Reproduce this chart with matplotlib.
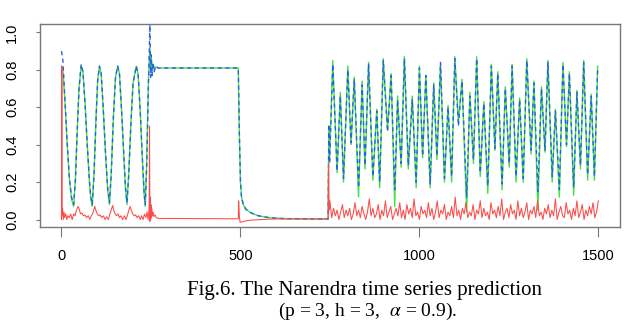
import numpy as np
import matplotlib
matplotlib.use("Agg")
import matplotlib.pyplot as plt

plt.rcParams['font.family'] = ['Liberation Sans', 'DejaVu Sans']
plt.rcParams['mathtext.fontset'] = 'stix'

# time index of the read-off points (actual and predicted share them)
t_sig = [0, 4, 10, 16, 22, 28, 34, 39, 44, 49, 55, 60, 66, 72, 78, 82, 86, 91, 96, 101,
         106, 111, 117, 123, 129, 134, 139, 145, 151, 157, 162, 168, 174, 179, 183, 188, 194, 200, 209, 214,
         220, 226, 231, 234, 238, 243, 247, 249, 251, 253, 256, 259, 263, 270, 494, 497, 500, 503, 508, 515,
         530, 550, 580, 620, 700, 745, 747, 749, 758, 770, 779, 788, 800, 809, 818, 830, 840, 848, 858, 870,
         881, 889, 899, 911, 921, 931, 939, 949, 958, 969, 980, 991, 1000, 1009, 1018, 1030, 1040, 1049, 1059, 1070,
         1080, 1090, 1099, 1109, 1119, 1132, 1141, 1151, 1160, 1170, 1180, 1191, 1201, 1211, 1219, 1231, 1240, 1251, 1259, 1270,
         1280, 1290, 1300, 1312, 1320, 1331, 1341, 1351, 1359, 1371, 1380, 1391, 1401, 1411, 1419, 1431, 1440, 1450, 1459, 1470,
         1480, 1489, 1498]

# actual series (green)
y_actual = [0.82, 0.80, 0.62, 0.40, 0.22, 0.11, 0.07, 0.22, 0.48, 0.70, 0.82, 0.79, 0.62, 0.40, 0.20, 0.11, 0.07, 0.25, 0.52, 0.74,
            0.82, 0.78, 0.58, 0.35, 0.16, 0.08, 0.25, 0.55, 0.76, 0.82, 0.78, 0.58, 0.34, 0.16, 0.08, 0.25, 0.52, 0.73, 0.82, 0.78,
            0.58, 0.32, 0.13, 0.07, 0.30, 0.75, 0.92, 0.80, 0.86, 0.79, 0.83, 0.80, 0.815, 0.81, 0.81, 0.45, 0.20, 0.12, 0.08, 0.055,
            0.035, 0.02, 0.01, 0.005, 0.003, 0.003, 0.50, 0.32, 0.85, 0.25, 0.68, 0.20, 0.82, 0.40, 0.76, 0.12, 0.74, 0.27, 0.84, 0.21,
            0.59, 0.17, 0.86, 0.48, 0.78, 0.07, 0.66, 0.28, 0.87, 0.27, 0.66, 0.17, 0.82, 0.33, 0.77, 0.17, 0.73, 0.32, 0.83, 0.20,
            0.61, 0.20, 0.87, 0.52, 0.75, 0.04, 0.68, 0.30, 0.87, 0.23, 0.63, 0.14, 0.83, 0.37, 0.79, 0.16, 0.71, 0.28, 0.83, 0.20,
            0.65, 0.20, 0.86, 0.35, 0.74, 0.05, 0.71, 0.36, 0.85, 0.20, 0.59, 0.12, 0.84, 0.39, 0.79, 0.13, 0.69, 0.27, 0.85, 0.21,
            0.67, 0.21, 0.82]

# predicted series (blue dashed)
y_pred = [0.90, 0.85, 0.63, 0.41, 0.22, 0.12, 0.08, 0.21, 0.47, 0.70, 0.83, 0.79, 0.61, 0.40, 0.21, 0.12, 0.08, 0.24, 0.51, 0.74,
          0.82, 0.78, 0.58, 0.36, 0.17, 0.09, 0.24, 0.54, 0.76, 0.82, 0.78, 0.58, 0.35, 0.17, 0.09, 0.24, 0.51, 0.73, 0.82, 0.78,
          0.58, 0.33, 0.14, 0.08, 0.28, 0.72, 1.04, 0.76, 0.88, 0.77, 0.84, 0.79, 0.82, 0.81, 0.81, 0.46, 0.21, 0.12, 0.08, 0.055,
          0.035, 0.02, 0.01, 0.005, 0.003, 0.003, 0.51, 0.30, 0.83, 0.26, 0.66, 0.22, 0.80, 0.41, 0.75, 0.17, 0.72, 0.29, 0.83, 0.23,
          0.58, 0.20, 0.85, 0.47, 0.77, 0.16, 0.64, 0.30, 0.86, 0.29, 0.64, 0.20, 0.81, 0.34, 0.77, 0.19, 0.72, 0.34, 0.84, 0.22,
          0.60, 0.23, 0.86, 0.50, 0.74, 0.12, 0.66, 0.32, 0.86, 0.25, 0.62, 0.18, 0.82, 0.38, 0.78, 0.19, 0.70, 0.30, 0.82, 0.23,
          0.64, 0.22, 0.85, 0.37, 0.73, 0.15, 0.70, 0.37, 0.84, 0.23, 0.58, 0.16, 0.83, 0.40, 0.78, 0.17, 0.68, 0.29, 0.84, 0.24,
          0.66, 0.23, 0.81]

# error series (red), first part at irregular points
t_err = [0, 1, 2, 3, 5, 7, 9, 12, 15, 18, 22, 26, 30, 34, 38, 42, 46, 49, 53, 57,
         61, 65, 70, 75, 79, 83, 87, 90, 93, 96, 100, 104, 108, 112, 117, 122, 126, 131, 135, 139,
         143, 146, 150, 154, 158, 162, 166, 171, 176, 180, 184, 188, 192, 195, 199, 203, 207, 211, 216, 220,
         224, 228, 232, 236, 239, 242, 245, 246, 247, 248, 249, 250, 251, 252, 254, 256, 258, 261, 265, 272,
         494, 495, 497, 499, 505, 515, 530, 560, 600, 745, 746, 748]
e_first = [0.0, 0.82, 0.02, 0.06, 0.0, 0.04, 0.01, 0.03, 0.0, 0.02, 0.01, 0.03, 0.0, 0.03, 0.02, 0.05, 0.07, 0.06, 0.03, 0.035,
           0.02, 0.025, 0.01, 0.02, 0.0, 0.02, 0.03, 0.05, 0.07, 0.05, 0.03, 0.02, 0.025, 0.01, 0.02, 0.0, 0.015, 0.0, 0.03, 0.05,
           0.075, 0.05, 0.03, 0.02, 0.03, 0.01, 0.02, 0.0, 0.02, 0.0, 0.02, 0.05, 0.07, 0.05, 0.03, 0.02, 0.025, 0.01, 0.02, 0.0,
           0.02, 0.0, 0.03, 0.01, 0.04, 0.0, 0.06, 0.50, -0.01, 0.12, 0.0, 0.08, 0.01, 0.06, 0.02, 0.04, 0.015, 0.025, 0.01, 0.006,
           0.004, 0.10, 0.02, -0.015, -0.012, -0.007, -0.003, 0.0, 0.003, 0.003, 0.30, 0.05]
# error series, last part every 5 steps from 750 to 1500
e_last = [0.10, 0.01, 0.06, 0.02, 0.05, 0.0, 0.04, 0.08, 0.01, 0.05, 0.02, 0.06, 0.0, 0.03, 0.09, 0.02, 0.05, 0.01, 0.07, 0.03,
          0.0, 0.04, 0.11, 0.02, 0.06, 0.01, 0.03, 0.08, 0.0, 0.05, 0.02, 0.10, 0.01, 0.04, 0.07, 0.0, 0.03, 0.06, 0.02, 0.09,
          0.01, 0.05, 0.0, 0.08, 0.03, 0.06, 0.01, 0.11, 0.02, 0.04, 0.0, 0.07, 0.03, 0.05, 0.01, 0.09, 0.02, 0.06, 0.0, 0.04,
          0.10, 0.01, 0.05, 0.03, 0.08, 0.0, 0.04, 0.02, 0.07, 0.01, 0.12, 0.02, 0.05, 0.0, 0.06, 0.03, 0.09, 0.01, 0.04, 0.02,
          0.08, 0.0, 0.05, 0.03, 0.10, 0.01, 0.06, 0.02, 0.04, 0.0, 0.09, 0.03, 0.05, 0.01, 0.07, 0.02, 0.11, 0.0, 0.04, 0.06,
          0.01, 0.08, 0.03, 0.05, 0.0, 0.10, 0.02, 0.06, 0.01, 0.04, 0.09, 0.0, 0.05, 0.03, 0.07, 0.01, 0.10, 0.02, 0.04, 0.0,
          0.06, 0.03, 0.08, 0.01, 0.05, 0.02, 0.11, 0.0, 0.04, 0.07, 0.02,
          0.01, 0.09, 0.03, 0.05, 0.0, 0.06, 0.02, 0.10, 0.01, 0.04, 0.08, 0.0, 0.05, 0.02, 0.07, 0.03, 0.09, 0.01, 0.04, 0.10]
t_last = np.arange(750, 1501, 5)

xticks = [0, 500, 1000, 1500]
yticks = [0.0, 0.2, 0.4, 0.6, 0.8, 1.0]

fig = plt.figure(figsize=(6.4, 3.25), dpi=100)
ax = fig.add_axes([0.0625, 0.3015, 0.906, 0.6245])

ax.plot(t_sig, y_actual, color='#44e044', lw=1.0)
ax.plot(t_sig, y_pred, color='#2a5fe8', lw=1.0, dashes=(3, 2.5))
ax.plot(list(t_err) + list(t_last), e_first + e_last, color='#ff4a4a', lw=0.75)

ax.set_xlim(-60, 1560)
ax.set_ylim(-0.04, 1.045)
ax.set_xticks(xticks)
ax.set_xticklabels([str(v) for v in xticks])
ax.set_yticks(yticks)
ax.set_yticklabels(['%.1f' % v for v in yticks], rotation=90, va='center')
ax.tick_params(axis='x', length=7, color='#777777', pad=9, labelsize=10.5)
ax.tick_params(axis='y', length=3, color='#777777', pad=12, labelsize=10.5)
for s in ax.spines.values():
    s.set_color('#777777')
    s.set_linewidth(1.0)

fig.text(0.57, 0.106, 'Fig.6. The Narendra time series prediction', ha='center', va='center',
         family='Liberation Serif', fontsize=15)
fig.text(0.575, 0.043, r'(p = 3, h = 3,  $\alpha$ = 0.9).', ha='center', va='center',
         family='Liberation Serif', fontsize=14)

fig.savefig('out.png', dpi=100, facecolor='white')
